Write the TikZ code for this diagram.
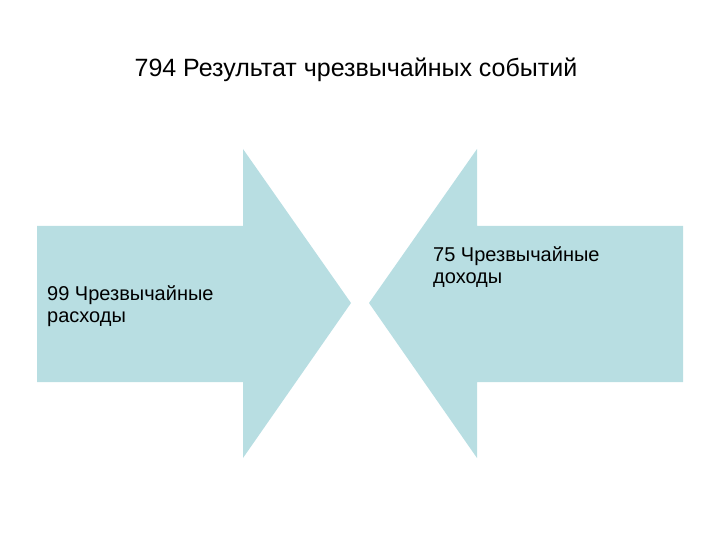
\documentclass[tikz,border=0pt]{standalone}
\usepackage{fontspec}
\setmainfont{Liberation Sans}
\definecolor{arrowfill}{RGB}{184,222,226}
\begin{document}
\begin{tikzpicture}[x=1pt,y=-1pt]
        \tikzstyle{bigarrow} = [fill=arrowfill, draw=none]
        \tikzstyle{label} = [inner sep=0, align=left, font=\fontsize{20}{22}\selectfont]
        \tikzstyle{title} = [inner sep=0, font=\fontsize{25}{30}\selectfont]

        \useasboundingbox (0,0) rectangle (720,540);

        % Title
        \node[title, anchor=base] (title) at (356,77) {794 Результат чрезвычайных событий};

        % Left arrow (pointing right)
        \fill[bigarrow] (37,226) -- (243,226) -- (243,149) -- (351,303)
                -- (243,458) -- (243,382) -- (37,382) -- cycle;

        % Right arrow (pointing left)
        \fill[bigarrow] (683,226) -- (477,226) -- (477,149) -- (369,303)
                -- (477,458) -- (477,382) -- (683,382) -- cycle;

        % Labels (base = last line)
        \node[label, anchor=base west] (expenses) at (47,322) {99 Чрезвычайные\\расходы};
        \node[label, anchor=base west] (income) at (433,283) {75 Чрезвычайные\\доходы};
    \end{tikzpicture}
\end{document}
